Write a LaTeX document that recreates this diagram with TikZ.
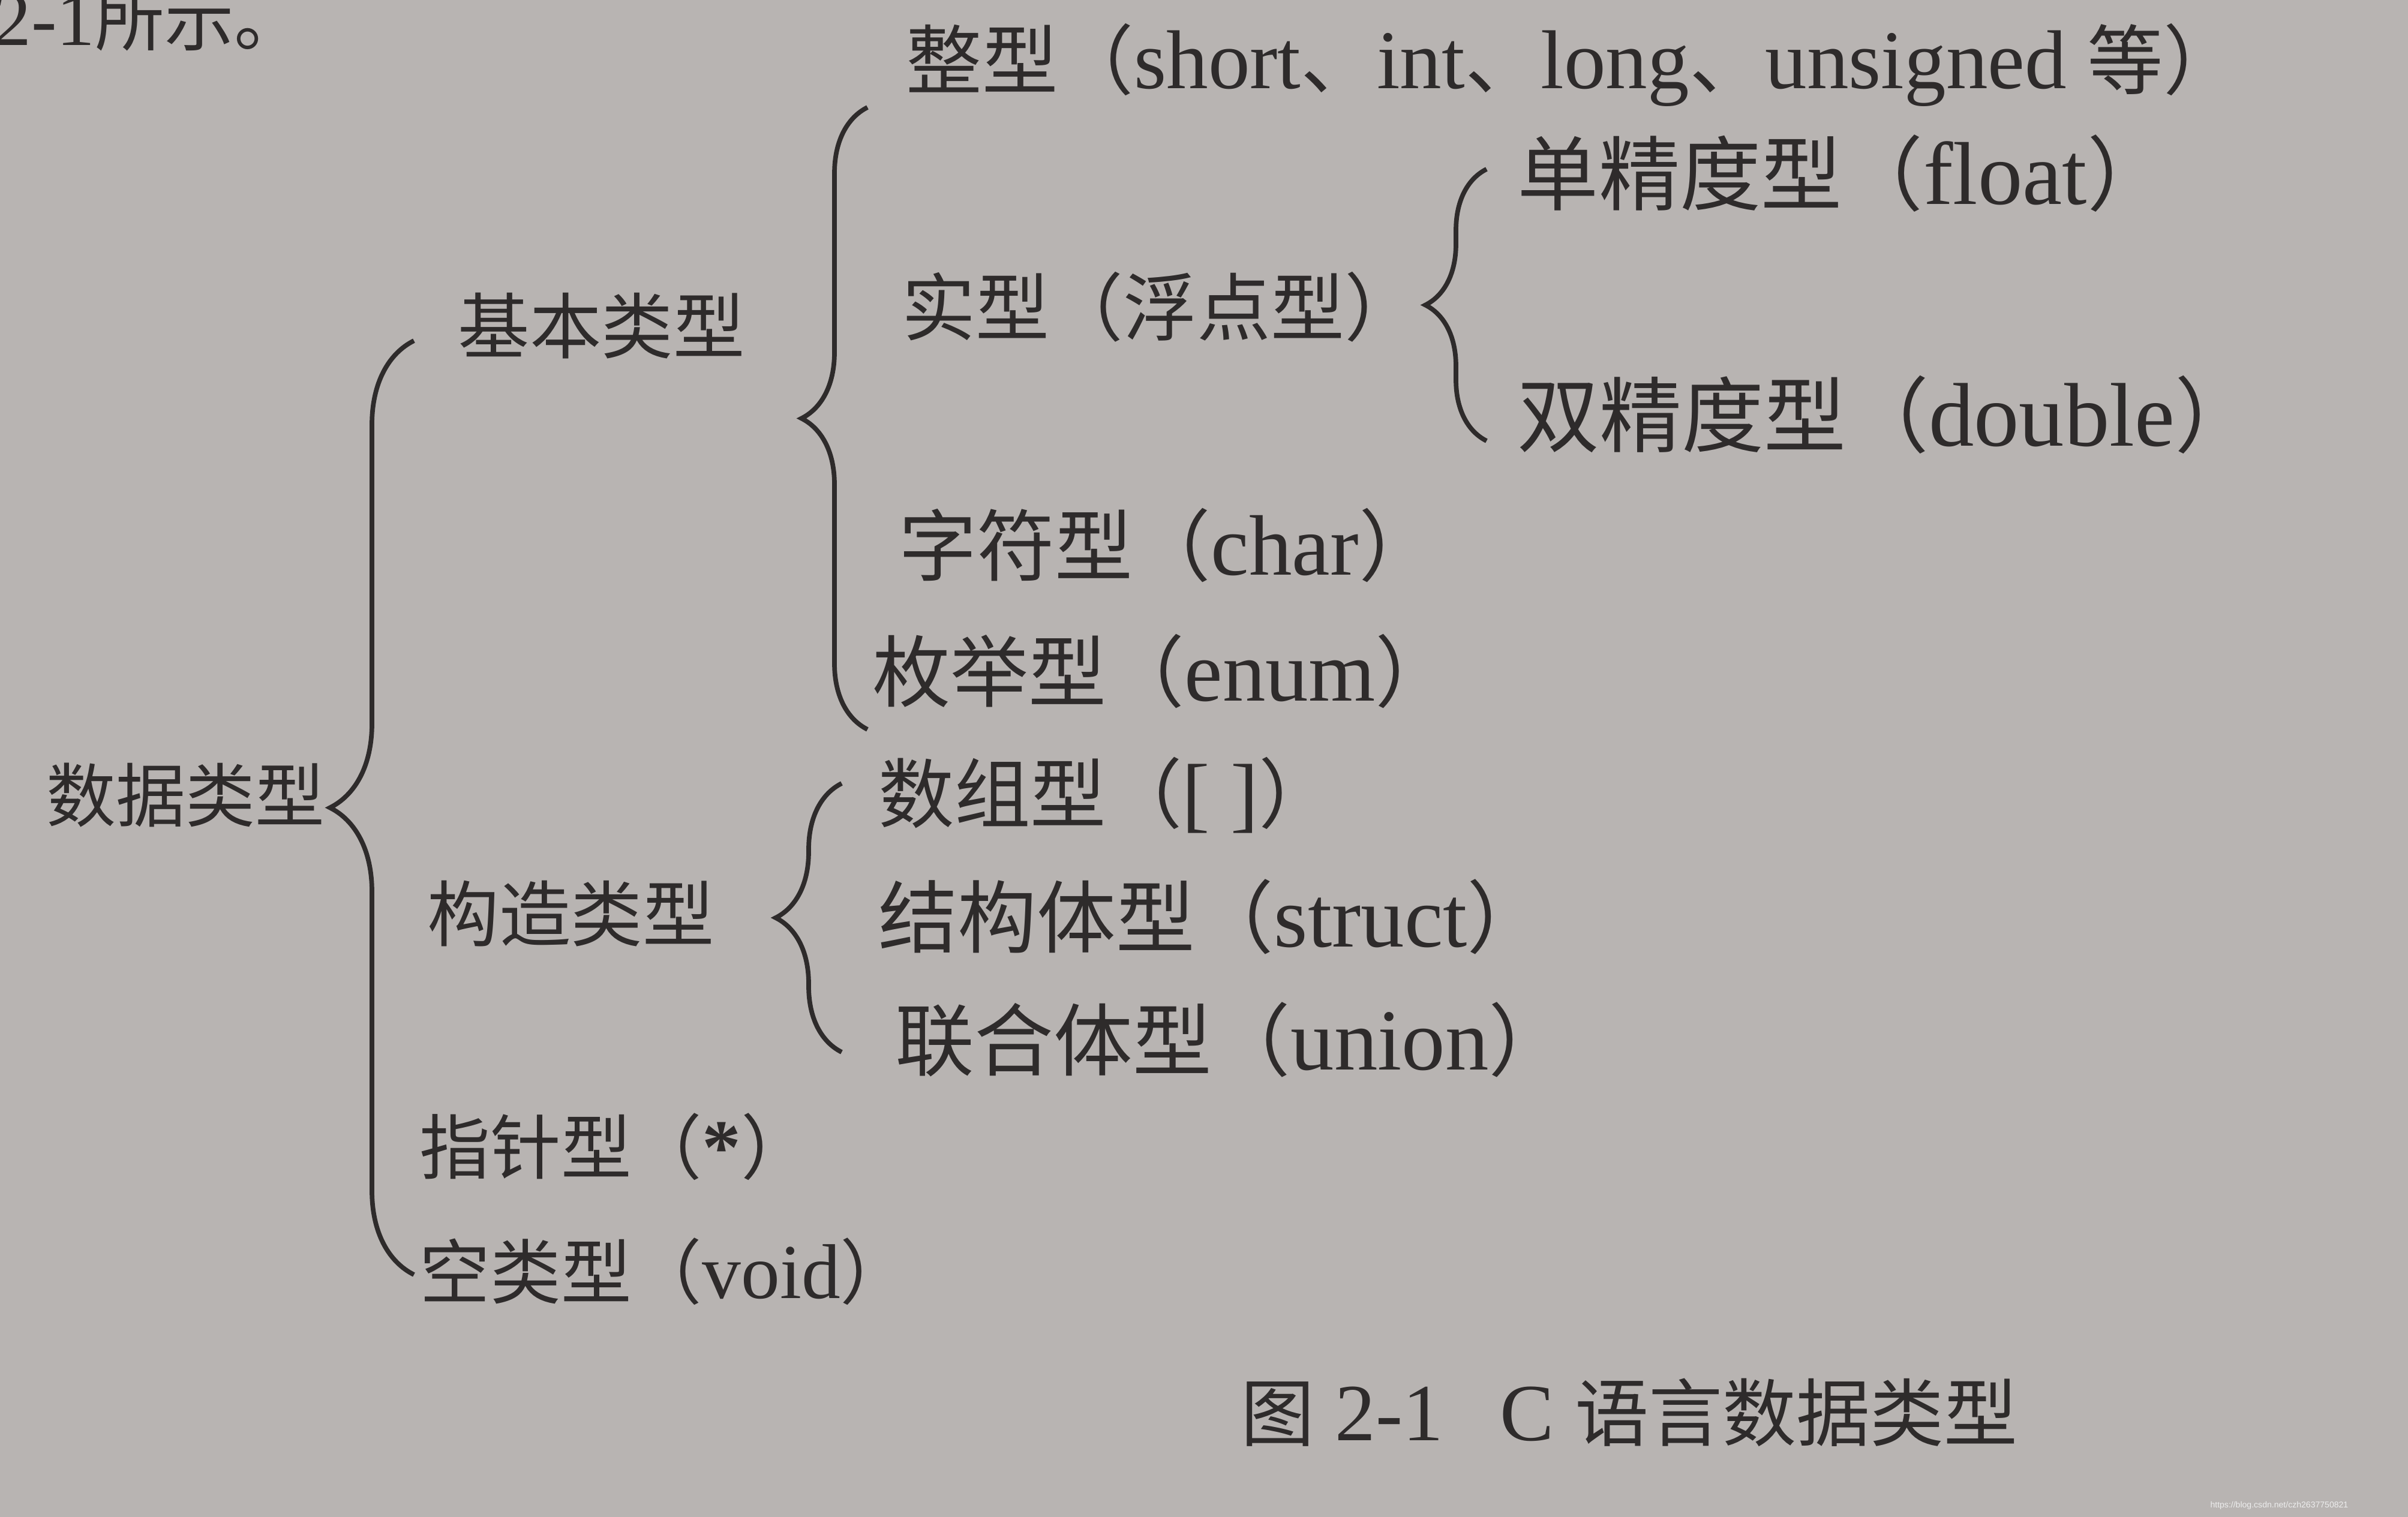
\documentclass[tikz,border=0pt]{standalone}
\usepackage{fontspec}
\setmainfont{Liberation Serif}[Scale=1.1]
\newfontfamily\cjk{Noto Sans CJK SC}
\newfontfamily\wmfont{Liberation Sans}
\usetikzlibrary{decorations.pathreplacing}
\definecolor{paper}{RGB}{184,180,178}
\definecolor{ink}{RGB}{46,43,43}
\definecolor{wm}{RGB}{238,238,238}

\begin{document}
\begin{tikzpicture}[
  lbl/.style={right,inner sep=0pt,text=ink,font=\fontsize{#1}{#1}\selectfont},
  curly/.style={draw=ink,line width=2.2pt,decorate,decoration={brace,amplitude=#1}}]
\useasboundingbox (0,0) rectangle (40.14,-25.29);
\fill[paper] (0,0) rectangle (40.14,-25.29);
% end of the line above, cut by the page edge
\node[lbl=33] (prev) at (-0.12,-0.32) {2-1{\cjk 所示。}};
% root
\node[lbl=33] (dtype) at (0.77,-13.26) {\cjk 数据类型};
\draw[curly=1.4cm] (6.9,-21.25) -- (6.9,-5.68);
% first level
\node[lbl=34] (basic) at (7.63,-5.43) {\cjk 基本类型};
\node[lbl=34] (construct) at (7.12,-15.23) {\cjk 构造类型};
\node[lbl=33.5] (pointer) at (6.99,-19.12) {{\cjk 指针型（}\textbf{*}{\cjk ）}};
\node[lbl=33.5] (voidt) at (6.99,-21.20) {{\cjk 空类型（}void{\cjk ）}};
% basic types
\draw[curly=1.1cm] (14.46,-12.16) -- (14.46,-1.79);
\node[lbl=36] (intt) at (15.10,-1.08) {{\cjk 整型（}short{\cjk 、}int{\cjk 、}long{\cjk 、}unsigned {\cjk 等）}};
\node[lbl=35] (real) at (15.03,-5.12) {\cjk 实型（浮点型）};
\node[lbl=37] (chart) at (14.98,-9.09) {{\cjk 字符型（}char{\cjk ）}};
\node[lbl=37] (enumt) at (14.54,-11.19) {{\cjk 枚举型（}enum{\cjk ）}};
% real types
\draw[curly=1.02cm] (24.78,-7.35) -- (24.78,-2.82);
\node[lbl=38.5] (single) at (25.29,-2.89) {{\cjk 单精度型（}float{\cjk ）}};
\node[lbl=39] (double) at (25.29,-6.91) {{\cjk 双精度型（}double{\cjk ）}};
% constructed types
\draw[curly=1.1cm] (14.03,-17.54) -- (14.03,-13.06);
\node[lbl=36] (array) at (14.64,-13.26) {{\cjk 数组型（}[ ]{\cjk ）}};
\node[lbl=37.5] (structt) at (14.64,-15.28) {{\cjk 结构体型（}struct{\cjk ）}};
\node[lbl=37.5] (union) at (14.92,-17.33) {{\cjk 联合体型（}union{\cjk ）}};
% caption
\node[lbl=35] (caption) at (20.68,-23.55) {{\cjk 图} 2-1\hspace{0.95cm}C {\cjk 语言数据类型}};
\node[inner sep=0pt,anchor=east,text=wm,font=\wmfont\fontsize{4}{4}\selectfont] (wmark) at (39.15,-25.10) {https://blog.csdn.net/czh2637750821};
\end{tikzpicture}
\end{document}
